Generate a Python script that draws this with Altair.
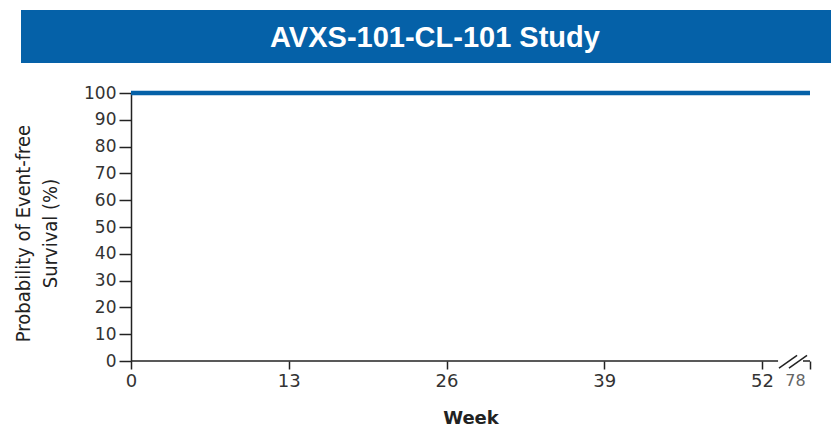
import altair as alt
import pandas as pd

# ---- data ----
title_text = ["AVXS-101-CL-101 Study"]
weeks = [0, 78]
survival = [100, 100]
x_tick_values = [0, 13, 26, 39, 52, 78]
y_tick_values = [0, 10, 20, 30, 40, 50, 60, 70, 80, 90, 100]
# x-axis line pieces (broken between 52 and 78)
axis_start = [0, 74.2]
axis_end = [60.7, 78]
# break marks "//"
brk_x1 = [61.2, 66.6]
brk_x2 = [71.0, 76.4]
brk_y1 = [-2.7, -2.7]
brk_y2 = [2.1, 2.1]

W, H = 679, 268
BLUE = "#0561A8"
DARK = "#222222"

xscale = alt.Scale(domain=[0, 52, 78], range=[0, 631, W])
yscale = alt.Scale(domain=[0, 100], nice=False, zero=True)

line_df = pd.DataFrame({"week": weeks, "surv": survival})
axis_df = pd.DataFrame({"a": axis_start, "b": axis_end, "y": [0, 0]})
brk_df = pd.DataFrame({"x1": brk_x1, "x2": brk_x2, "y1": brk_y1, "y2": brk_y2})
title_df = pd.DataFrame({"t": title_text})

xaxis = alt.Axis(
    values=x_tick_values,
    title="Week",
    domain=False,
    grid=False,
    tickSize=8,
    tickWidth=1.5,
    tickColor=DARK,
    labelFont="DejaVu Sans",
    labelFontSize={"condition": {"test": "datum.value == 78", "value": 16}, "value": 18},
    labelColor={"condition": {"test": "datum.value == 78", "value": "#666666"}, "value": "#333333"},
    labelOffset={"condition": {"test": "datum.value == 78", "value": -15}, "value": 0},
    labelPadding=3,
    labelFlush=False,
    labelOverlap=False,
    titleFont="DejaVu Sans",
    titleFontSize=18,
    titleFontWeight="bold",
    titleColor=DARK,
    titlePadding=19,
)

yaxis = alt.Axis(
    values=y_tick_values,
    title=["Probability of Event-free", "Survival (%)"],
    grid=False,
    domainColor=DARK,
    domainWidth=1.5,
    tickSize=12,
    tickWidth=1.5,
    tickColor=DARK,
    labelFont="DejaVu Sans",
    labelFontSize=17,
    labelColor="#333333",
    labelPadding=3,
    labelOverlap=False,
    titleFont="'DejaVu Sans Condensed', 'Liberation Sans'",
    titleFontSize=20,
    titleFontWeight="normal",
    titleColor=DARK,
    titleLineHeight=27,
    titlePadding=23,
    titleY=140,
)

line = alt.Chart(line_df).mark_line(color=BLUE, strokeWidth=4.5, strokeCap="butt").encode(
    x=alt.X("week:Q", scale=xscale, axis=xaxis),
    y=alt.Y("surv:Q", scale=yscale, axis=yaxis),
)

axis_line = alt.Chart(axis_df).mark_rule(color=DARK, strokeWidth=1.5).encode(
    x=alt.X("a:Q", scale=xscale, axis=xaxis),
    x2="b:Q",
    y=alt.Y("y:Q", scale=yscale, axis=yaxis),
)

breaks = alt.Chart(brk_df).mark_rule(color=DARK, strokeWidth=1.5).encode(
    x=alt.X("x1:Q", scale=xscale, axis=xaxis),
    x2="x2:Q",
    y=alt.Y("y1:Q", scale=yscale, axis=yaxis),
    y2="y2:Q",
)

banner = alt.Chart(title_df).mark_rect(color=BLUE).encode(
    x=alt.value(-110), x2=alt.value(700), y=alt.value(-83), y2=alt.value(-30)
)
banner_text = alt.Chart(title_df).mark_text(
    color="white", font="Liberation Sans", fontSize=29, fontWeight="bold",
    align="center", baseline="alphabetic",
).encode(text="t:N", x=alt.value(304), y=alt.value(-46))

chart = alt.layer(line, banner, banner_text, axis_line, breaks).properties(
    width=W, height=H,
    autosize=alt.AutoSizeParams(type="none"),
    padding={"left": 123, "top": 85, "right": 21, "bottom": 66},
).configure(background="white").configure_view(stroke=None)

chart.save("out.html", embed_options={"renderer": "svg", "actions": False})
